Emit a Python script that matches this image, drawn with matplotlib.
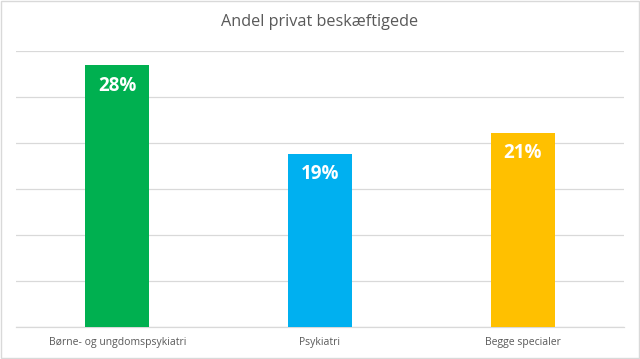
import matplotlib.pyplot as plt
from matplotlib.patches import Rectangle

# data
categories = ['Børne- og ungdomspsykiatri', 'Psykiatri', 'Begge specialer']
values = [28.4, 18.8, 21.1]
colors = ['#00B050', '#00B0F0', '#FFC000']

plt.rcParams['font.family'] = ['Open Sans', 'DejaVu Sans']

fig = plt.figure(figsize=(6.4, 3.59), dpi=100)
ax = fig.add_axes([0.025, 0.089, 0.95, 0.77])

x = range(len(categories))
bars = ax.bar(x, values, width=0.315, color=colors, zorder=3)

# labels inside the top of each bar
for bar, v in zip(bars, values):
    ax.annotate(f'{v:.0f}%', (bar.get_x() + bar.get_width() / 2, v),
                xytext=(0, -14.5), textcoords='offset points',
                ha='center', va='center', color='white', fontsize=13.5,
                fontweight='bold', zorder=4)

ax.set_xlim(-0.5, 2.5)
ax.set_ylim(0, 30)
ax.set_yticks(range(0, 31, 5))
ax.yaxis.grid(True, color='#D9D9D9', linewidth=0.9)
ax.set_yticklabels([])
ax.tick_params(axis='y', length=0)
ax.tick_params(axis='x', length=0, labelsize=7.5, labelcolor='#595959', pad=7)
ax.set_xticks(list(x))
ax.set_xticklabels(categories)
for s in ['top', 'right', 'left']:
    ax.spines[s].set_visible(False)
ax.spines['bottom'].set_color('#D9D9D9')
ax.spines['bottom'].set_linewidth(0.9)

fig.text(0.5, 0.94, 'Andel privat beskæftigede', ha='center', va='center',
         fontsize=11.7, color='#595959')

# chart border
fig.patches.append(Rectangle((0.002, 0.003), 0.996, 0.994, transform=fig.transFigure,
                             fill=False, edgecolor='#D9D9D9', linewidth=1))

fig.savefig('out.png', dpi=100)
